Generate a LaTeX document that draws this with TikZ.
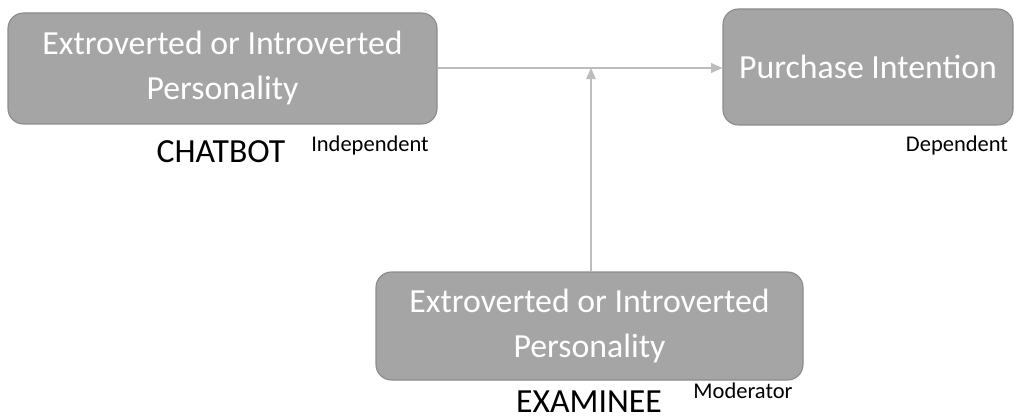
\documentclass[tikz,border=0pt]{standalone}
\usepackage{fontspec}
\setmainfont{Carlito}
\usetikzlibrary{arrows.meta, positioning}

\begin{document}
\begin{tikzpicture}[x=0.025cm, y=-0.025cm,
    >={Triangle[length=8pt, width=7pt]},
    var/.style={rectangle, rounded corners=11pt, draw=boxline, fill=boxfill, line width=0.8pt, text=white, align=center, font=\fontsize{24}{32}\selectfont, inner sep=0pt},
    role/.style={font=\fontsize{24}{28}\selectfont, text=black, inner sep=0pt},
    kind/.style={font=\fontsize{16}{19}\selectfont, text=black},
    link/.style={->, draw=linegray, line width=0.8pt}
    ]
    \definecolor{boxfill}{HTML}{A5A5A5}
    \definecolor{boxline}{HTML}{8C8C8C}
    \definecolor{linegray}{HTML}{BDBDBD}
    \useasboundingbox (0,0) rectangle (1014,420);
    % Nodes
    \node[var, minimum width=429*0.025cm, minimum height=111*0.025cm] (IV) at (222.5,68.5) {Extroverted or Introverted\\Personality};
    \node[var, minimum width=290*0.025cm, minimum height=116*0.025cm] (DV) at (868,67) {Purchase Intention};
    \node[var, minimum width=427*0.025cm, minimum height=108*0.025cm] (MV) at (589.5,326) {Extroverted or Introverted\\Personality};
    \node[role, anchor=base] (chatbot) at (221,162) {CHATBOT};
    \node[kind] (indep) at (370,146) {Independent};
    \node[kind] (dep) at (957,146) {Dependent};
    \node[role, anchor=base] (examinee) at (589,412) {EXAMINEE};
    \node[kind] (moder) at (743,391) {Moderator};
    \coordinate (join) at (591,68);
    % Edges
    \path (IV.east |- join) edge [link] (DV.west |- join);
    \path (MV.north -| join) edge [link] (join);
\end{tikzpicture}
\end{document}
